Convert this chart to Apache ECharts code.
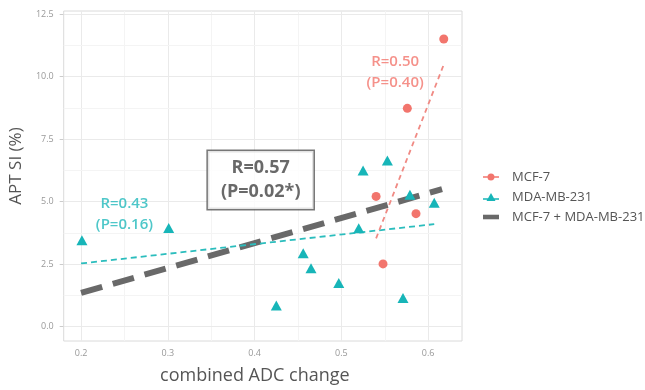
<!DOCTYPE html>
<html>
<head>
<meta charset="utf-8">
<script src="https://cdn.jsdelivr.net/npm/echarts@6/dist/echarts.min.js"></script>
<style>
  html, body { margin: 0; padding: 0; background: #fff; }
  #chart { width: 645px; height: 390px; }
</style>
</head>
<body>
<div id="chart"></div>
<script>
// MCF-7 points (combined ADC change, APT SI %)
const mcfX = [0.540, 0.548, 0.576, 0.586, 0.618]
const mcfY = [5.21, 2.51, 8.73, 4.52, 11.5]
// MDA-MB-231 points
const mdaX = [0.201, 0.301, 0.425, 0.456, 0.465, 0.497, 0.520, 0.525, 0.553, 0.571, 0.579, 0.607]
const mdaY = [3.46, 3.95, 0.85, 2.94, 2.34, 1.75, 3.94, 6.24, 6.64, 1.15, 5.28, 4.96]
// fitted lines, read as end points
const mcfFitX = [0.540, 0.618]
const mcfFitY = [3.53, 10.48]
const mdaFitX = [0.200, 0.607]
const mdaFitY = [2.53, 4.10]
const allFitX = [0.200, 0.616]
const allFitY = [1.35, 5.50]
// axis ticks
const xTicks = [0.2, 0.3, 0.4, 0.5, 0.6]
const xMinor = [0.25, 0.35, 0.45, 0.55]
const yTicks = [0, 2.5, 5, 7.5, 10, 12.5]
const yMinor = [1.25, 3.75, 6.25, 8.75, 11.25]
// annotations
const noteText = ['R=0.50\n(P=0.40)', 'R=0.43\n(P=0.16)', 'R=0.57\n(P=0.02*)']
const noteX = [0.562, 0.250, 0.407]
const noteY = [10.16, 4.48, 5.87]

const FONT = 'Open Sans'
const RED = '#F2756D'
const TEAL = '#17B5B8'
const GREY = '#696969'

const pairs = (xs, ys) => xs.map((x, i) => [x, ys[i]])

const chart = echarts.init(document.getElementById('chart'))

const major = { color: '#EAEAEA', width: 1, type: 'solid' }
const minor = { color: '#F4F4F4', width: 1, type: 'solid' }
const gridLines = [
  ...xTicks.map(v => ({ xAxis: v, lineStyle: major })),
  ...xMinor.map(v => ({ xAxis: v, lineStyle: minor })),
  ...yTicks.map(v => ({ yAxis: v, lineStyle: major })),
  ...yMinor.map(v => ({ yAxis: v, lineStyle: minor }))
]

const noteStyles = [
  { color: RED, fontSize: 15, fontWeight: 600, lineHeight: 21 },
  { color: '#22B9BB', fontSize: 15, fontWeight: 600, lineHeight: 21 },
  {
    color: '#444', fontSize: 18, fontWeight: 'bold', lineHeight: 24,
    borderColor: '#555', borderWidth: 1.5, backgroundColor: '#fff', padding: [5, 13]
  }
]

const option = {
  animation: false,
  backgroundColor: '#fff',
  textStyle: { fontFamily: FONT },
  grid: {
    left: 62, right: 183, top: 11, bottom: 47,
    show: true, borderColor: '#DADADA', borderWidth: 1, backgroundColor: '#fff'
  },
  xAxis: {
    type: 'value',
    min: 0.18,
    max: 0.639,
    name: 'combined ADC change',
    nameLocation: 'middle',
    nameGap: 26,
    nameTextStyle: { fontSize: 18, color: '#555', fontFamily: FONT, padding: [0, 16, 0, 0] },
    axisLine: { show: false },
    axisTick: { show: true, length: 4, customValues: xTicks, lineStyle: { color: '#CCC' } },
    axisLabel: {
      customValues: xTicks, margin: 8, fontSize: 9, color: '#999', fontFamily: FONT,
      formatter: v => v.toFixed(1)
    },
    splitLine: { show: false }
  },
  yAxis: {
    type: 'value',
    min: -0.57,
    max: 12.62,
    name: 'APT SI (%)',
    nameLocation: 'middle',
    nameGap: 34,
    nameTextStyle: { fontSize: 17, color: '#555', fontFamily: FONT, padding: [0, 0, 0, 20] },
    axisLine: { show: false },
    axisTick: { show: true, length: 4, customValues: yTicks, lineStyle: { color: '#CCC' } },
    axisLabel: {
      customValues: yTicks, margin: 10, fontSize: 9, color: '#999', fontFamily: FONT,
      formatter: v => v.toFixed(1)
    },
    splitLine: { show: false }
  },
  legend: {
    orient: 'vertical',
    left: 483,
    top: 170,
    padding: 0,
    itemWidth: 16,
    itemHeight: 10,
    itemGap: 6,
    textStyle: { fontSize: 13, color: '#555', fontFamily: FONT, lineHeight: 14, padding: [0, 0, 0, 8] },
    data: [
      { name: 'MCF-7', icon: 'path://M0,4.3H16V5.7H0Z M8,1.5A3.5,3.5,0,1,1,7.99,1.5Z' },
      { name: 'MDA-MB-231', icon: 'path://M0,6.3H16V7.7H0Z M8,1L12.5,9H3.5Z' },
      { name: 'MCF-7 + MDA-MB-231', icon: 'path://M1,0H15V4H1Z' }
    ]
  },
  series: [
    {
      name: 'grid',
      type: 'scatter',
      data: [],
      silent: true,
      markLine: {
        silent: true,
        z: 1,
        symbol: ['none', 'none'],
        label: { show: false },
        data: gridLines
      }
    },
    {
      name: 'MCF-7 + MDA-MB-231',
      type: 'line',
      data: pairs(allFitX, allFitY),
      showSymbol: false,
      itemStyle: { color: GREY },
      lineStyle: { color: GREY, width: 6, type: [22, 11], cap: 'butt' },
      z: 3
    },
    {
      name: 'mda fit',
      type: 'line',
      data: pairs(mdaFitX, mdaFitY),
      showSymbol: false,
      lineStyle: { color: '#2BBDBD', width: 1.8, type: [6, 4] },
      z: 3
    },
    {
      name: 'mcf fit',
      type: 'line',
      data: pairs(mcfFitX, mcfFitY),
      showSymbol: false,
      lineStyle: { color: '#F08A84', width: 1.8, type: [5, 4] },
      z: 3
    },
    {
      name: 'MCF-7',
      type: 'scatter',
      data: pairs(mcfX, mcfY),
      symbol: 'circle',
      symbolSize: 9,
      itemStyle: { color: RED, opacity: 1 },
      z: 4
    },
    {
      name: 'MDA-MB-231',
      type: 'scatter',
      data: pairs(mdaX, mdaY),
      symbol: 'triangle',
      symbolSize: [11, 10],
      itemStyle: { color: TEAL, opacity: 1 },
      z: 4
    },
    {
      name: 'notes',
      type: 'scatter',
      symbolSize: 1,
      silent: true,
      itemStyle: { color: 'transparent' },
      z: 5,
      data: noteText.map((t, i) => ({
        value: [noteX[i], noteY[i]],
        label: Object.assign({
          show: true, position: 'inside', formatter: t, fontFamily: FONT, align: 'center'
        }, noteStyles[i])
      }))
    }
  ]
}

chart.setOption(option)
</script>
</body>
</html>
